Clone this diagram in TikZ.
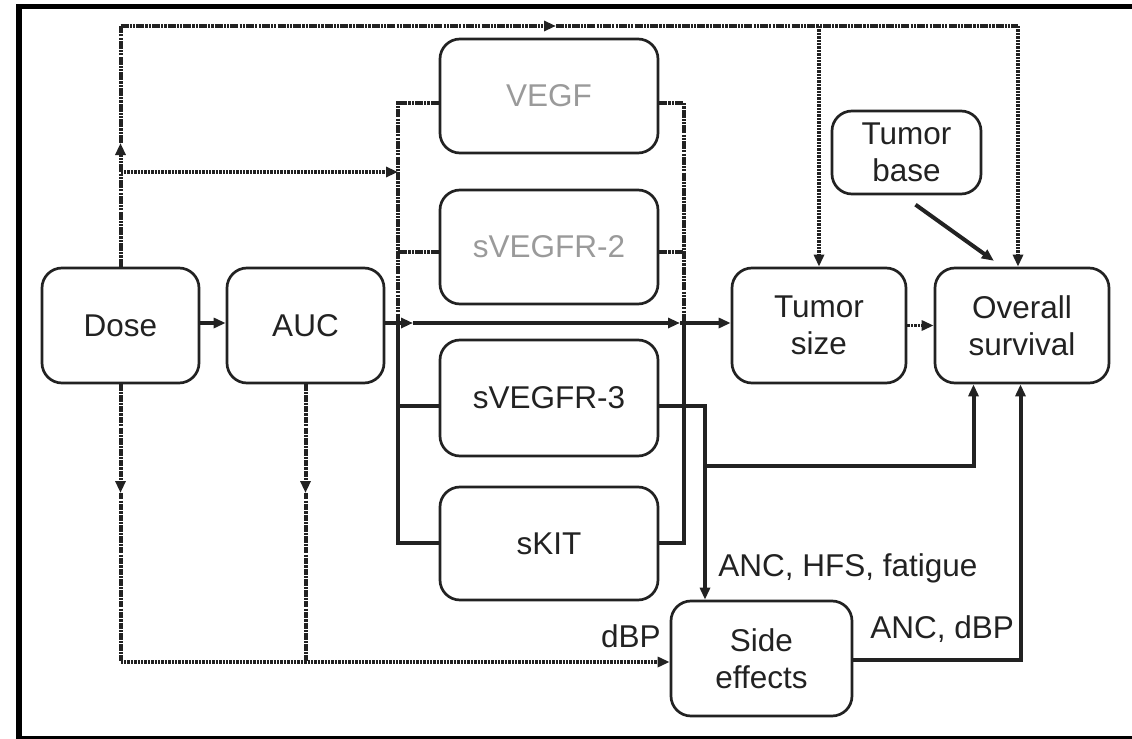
\documentclass[tikz,border=0pt]{standalone}
\usepackage{fontspec}
\setmainfont{Liberation Sans}
\usetikzlibrary{arrows.meta}
\definecolor{ink}{HTML}{222222}
\definecolor{faint}{HTML}{9A9A9A}
\newcommand\diagfont{\fontsize{15.75}{18.5}\selectfont}
\tikzset{
  box/.style={draw=ink, line width=1.35pt, rounded corners=10pt, align=center,
    inner sep=0pt, font=\diagfont, text=ink},
  lbl/.style={font=\diagfont, text=ink, inner sep=0pt},
  solidc/.style={draw=ink, line width=2pt},
  dd/.style={draw=ink, line width=2pt, dash pattern=on 4pt off 0.55pt on 1.1pt off 0.55pt on 1.1pt off 0.55pt},
  dots/.style={draw=ink, line width=1.8pt, dash pattern=on 1.2pt off 0.5pt},
  dsh/.style={draw=ink, line width=2pt, dash pattern=on 3.2pt off 0.55pt on 1.1pt off 0.55pt},
  tip/.style={-{Triangle[length=6pt,width=5pt]}},
}
\begin{document}
\begin{tikzpicture}[x=0.5pt,y=-0.5pt]
\useasboundingbox (0,0) rectangle (1132,739);
% frame
\draw[line width=2.5pt] (19,6.5) -- (1132,6.5);
\draw[line width=3pt] (19,4) -- (19,739);
\draw[line width=1.5pt] (19,737.5) -- (1132,737.5);

% nodes
\node[box, minimum width=78.5pt, minimum height=57.5pt] (dose) at (120.5,325.5) {Dose};
\node[box, minimum width=78.5pt, minimum height=57.5pt] (auc) at (305.5,325.5) {AUC};
\node[box, minimum width=109pt, minimum height=57pt, text=faint] (vegf) at (549,96) {VEGF};
\node[box, minimum width=109pt, minimum height=57pt, text=faint] (r2) at (549,247) {sVEGFR-2};
\node[box, minimum width=109pt, minimum height=58pt] (r3) at (549,398) {sVEGFR-3};
\node[box, minimum width=109pt, minimum height=56.5pt] (kit) at (549,543.5) {sKIT};
\node[box, minimum width=87pt, minimum height=57.5pt] (ts) at (819,325.5) {Tumor\\size};
\node[box, minimum width=87pt, minimum height=57.5pt] (os) at (1022,325.5) {Overall\\survival};
\node[box, minimum width=74.5pt, minimum height=41.5pt] (tb) at (906.5,152.5) {Tumor\\base};
\node[box, minimum width=90.5pt, minimum height=57.5pt] (se) at (761.5,658.5) {Side\\effects};

% helper coordinates
\coordinate (lbx) at (398,0);
\coordinate (rbx) at (684,0);
\coordinate (sx) at (705,0);
\coordinate (ox1) at (973.5,0);
\coordinate (ox2) at (1020.5,0);
\coordinate (tx) at (1018,0);
\coordinate (yM) at (0,323);
\coordinate (yV) at (0,103);
\coordinate (y2) at (0,252);
\coordinate (y3) at (0,406);
\coordinate (yK) at (0,543);
\coordinate (y466) at (0,466);
\coordinate (ySE) at (0,660);
\coordinate (y172) at (0,172);
\coordinate (ytop) at (0,26);
\coordinate (yup) at (0,143);
\coordinate (ydn) at (0,493);
\coordinate (ybot) at (0,662);
\coordinate (m1) at (413,323);
\coordinate (m2) at (680,323);
\coordinate (mt) at (556,26);

% Dose -> AUC and main line
\draw[solidc,tip] (dose.east |- yM) -- (auc.west |- yM);
\draw[solidc,tip] (auc.east |- yM) -- (m1);
\draw[solidc,tip] (m1) -- (m2);
\draw[solidc,tip] (m2) -- (ts.west |- yM);

% left bus
\draw[dd] (vegf.west |- yV) -- (lbx |- yV) -- (lbx |- yM);
\draw[dd] (r2.west |- y2) -- (lbx |- y2);
\draw[solidc] (lbx |- yM) -- (lbx |- yK) -- (kit.west |- yK);
\draw[solidc] (lbx |- y3) -- (r3.west |- y3);

% right bus
\draw[dd] (vegf.east |- yV) -- (rbx |- yV) -- (rbx |- yM);
\draw[dd] (r2.east |- y2) -- (rbx |- y2);
\draw[solidc] (rbx |- yM) -- (rbx |- yK) -- (kit.east |- yK);

% sVEGFR-3 -> side effects, -> overall survival
\draw[solidc,tip] (r3.east |- y3) -- (sx |- y3) -- (sx |- se.north);
\draw[solidc,tip] (sx |- y466) -- (ox1 |- y466) -- (ox1 |- os.south);
\draw[solidc,tip] (se.east |- ySE) -- (ox2 |- ySE) -- (ox2 |- os.south);

% top dash-dot
\draw[dd,tip] (dose.north) -- (dose.north |- yup);
\draw[dd] (dose.north |- yup) -- (dose.north |- ytop);
\draw[dd,tip] (dose.north |- ytop) -- (mt);
\draw[dd] (mt) -- (tx |- ytop);
\draw[dots,tip] (tx |- ytop) -- (tx |- os.north);
\draw[dots,tip] (ts.north |- ytop) -- (ts.north);
\draw[dots,tip] (dose.north |- y172) -- (lbx |- y172);

% tumor size -> OS, tumor base -> OS
\draw[dots,tip] (ts.east) -- (os.west);
\draw[solidc,tip,shorten <=8pt,shorten >=5pt] ([xshift=-2pt]tb.south) -- ([xshift=-10pt]os.north);

% bottom
\draw[dsh,tip] (dose.south) -- (dose.south |- ydn);
\draw[dsh] (dose.south |- ydn) -- (dose.south |- ybot);
\draw[dsh,tip] (auc.south) -- (auc.south |- ydn);
\draw[dsh] (auc.south |- ydn) -- (auc.south |- ybot);
\draw[dots,tip] (dose.south |- ybot) -- (se.west |- ybot);

% labels
\node[lbl, anchor=base west] (l1) at (718,576) {ANC, HFS, fatigue};
\node[lbl, anchor=base east] (l2) at (661,647) {dBP};
\node[lbl, anchor=base west] (l3) at (870,638) {ANC, dBP};
\end{tikzpicture}
\end{document}
